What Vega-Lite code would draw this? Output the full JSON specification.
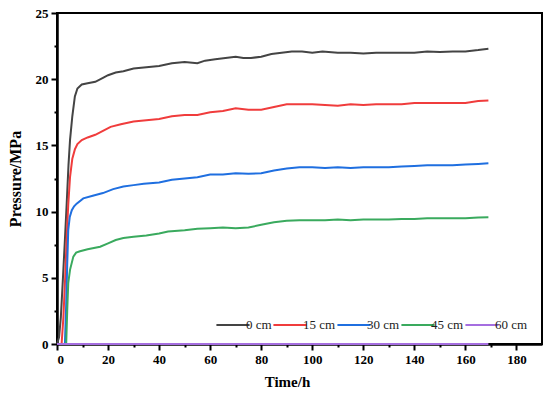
{
  "$schema": "https://vega.github.io/schema/vega-lite/v6.json",
  "width": 485,
  "height": 331,
  "autosize": "none",
  "padding": {"left": 57, "top": 13, "right": 8, "bottom": 57},
  "background": "white",
  "data": {
    "values": [
      {"t": 0, "p": 0, "s": "0 cm"}, {"t": 0.8, "p": 0.5, "s": "0 cm"}, {"t": 1.5, "p": 2, "s": "0 cm"}, {"t": 2.2, "p": 4.5, "s": "0 cm"},
      {"t": 3, "p": 7.5, "s": "0 cm"}, {"t": 3.8, "p": 10.6, "s": "0 cm"}, {"t": 4.5, "p": 13.5, "s": "0 cm"}, {"t": 5.1, "p": 15.4, "s": "0 cm"},
      {"t": 6, "p": 17.2, "s": "0 cm"}, {"t": 7, "p": 18.7, "s": "0 cm"}, {"t": 8, "p": 19.3, "s": "0 cm"}, {"t": 9.7, "p": 19.6, "s": "0 cm"},
      {"t": 12, "p": 19.7, "s": "0 cm"}, {"t": 15, "p": 19.8, "s": "0 cm"}, {"t": 18, "p": 20.1, "s": "0 cm"}, {"t": 20, "p": 20.3, "s": "0 cm"},
      {"t": 23, "p": 20.5, "s": "0 cm"}, {"t": 26, "p": 20.6, "s": "0 cm"}, {"t": 30, "p": 20.8, "s": "0 cm"}, {"t": 35, "p": 20.9, "s": "0 cm"},
      {"t": 40, "p": 21.0, "s": "0 cm"}, {"t": 45, "p": 21.2, "s": "0 cm"}, {"t": 50, "p": 21.3, "s": "0 cm"}, {"t": 55, "p": 21.2, "s": "0 cm"},
      {"t": 58, "p": 21.4, "s": "0 cm"}, {"t": 62, "p": 21.5, "s": "0 cm"}, {"t": 66, "p": 21.6, "s": "0 cm"}, {"t": 70, "p": 21.7, "s": "0 cm"},
      {"t": 73, "p": 21.6, "s": "0 cm"}, {"t": 76, "p": 21.6, "s": "0 cm"}, {"t": 80, "p": 21.7, "s": "0 cm"}, {"t": 84, "p": 21.9, "s": "0 cm"},
      {"t": 88, "p": 22.0, "s": "0 cm"}, {"t": 92, "p": 22.1, "s": "0 cm"}, {"t": 96, "p": 22.1, "s": "0 cm"}, {"t": 100, "p": 22.0, "s": "0 cm"},
      {"t": 104, "p": 22.1, "s": "0 cm"}, {"t": 110, "p": 22.0, "s": "0 cm"}, {"t": 115, "p": 22.0, "s": "0 cm"}, {"t": 120, "p": 21.95, "s": "0 cm"},
      {"t": 125, "p": 22.0, "s": "0 cm"}, {"t": 130, "p": 22.0, "s": "0 cm"}, {"t": 135, "p": 22.0, "s": "0 cm"}, {"t": 140, "p": 22.0, "s": "0 cm"},
      {"t": 145, "p": 22.1, "s": "0 cm"}, {"t": 150, "p": 22.05, "s": "0 cm"}, {"t": 155, "p": 22.1, "s": "0 cm"}, {"t": 160, "p": 22.1, "s": "0 cm"},
      {"t": 165, "p": 22.2, "s": "0 cm"}, {"t": 169, "p": 22.3, "s": "0 cm"},

      {"t": 0, "p": 0, "s": "15 cm"}, {"t": 1.8, "p": 0, "s": "15 cm"}, {"t": 2.5, "p": 2, "s": "15 cm"}, {"t": 3.2, "p": 5, "s": "15 cm"},
      {"t": 3.8, "p": 8.1, "s": "15 cm"}, {"t": 4.4, "p": 10.5, "s": "15 cm"}, {"t": 5.1, "p": 12.6, "s": "15 cm"}, {"t": 6, "p": 14.0, "s": "15 cm"},
      {"t": 7, "p": 14.7, "s": "15 cm"}, {"t": 8, "p": 15.1, "s": "15 cm"}, {"t": 9.7, "p": 15.4, "s": "15 cm"}, {"t": 12, "p": 15.6, "s": "15 cm"},
      {"t": 15, "p": 15.8, "s": "15 cm"}, {"t": 18, "p": 16.1, "s": "15 cm"}, {"t": 21, "p": 16.4, "s": "15 cm"}, {"t": 25, "p": 16.6, "s": "15 cm"},
      {"t": 30, "p": 16.8, "s": "15 cm"}, {"t": 35, "p": 16.9, "s": "15 cm"}, {"t": 40, "p": 17.0, "s": "15 cm"}, {"t": 45, "p": 17.2, "s": "15 cm"},
      {"t": 50, "p": 17.3, "s": "15 cm"}, {"t": 55, "p": 17.3, "s": "15 cm"}, {"t": 60, "p": 17.5, "s": "15 cm"}, {"t": 65, "p": 17.6, "s": "15 cm"},
      {"t": 70, "p": 17.8, "s": "15 cm"}, {"t": 75, "p": 17.7, "s": "15 cm"}, {"t": 80, "p": 17.7, "s": "15 cm"}, {"t": 85, "p": 17.9, "s": "15 cm"},
      {"t": 90, "p": 18.1, "s": "15 cm"}, {"t": 95, "p": 18.1, "s": "15 cm"}, {"t": 100, "p": 18.1, "s": "15 cm"}, {"t": 105, "p": 18.05, "s": "15 cm"},
      {"t": 110, "p": 18.0, "s": "15 cm"}, {"t": 115, "p": 18.1, "s": "15 cm"}, {"t": 120, "p": 18.05, "s": "15 cm"}, {"t": 125, "p": 18.1, "s": "15 cm"},
      {"t": 130, "p": 18.1, "s": "15 cm"}, {"t": 135, "p": 18.1, "s": "15 cm"}, {"t": 140, "p": 18.2, "s": "15 cm"}, {"t": 145, "p": 18.2, "s": "15 cm"},
      {"t": 150, "p": 18.2, "s": "15 cm"}, {"t": 155, "p": 18.2, "s": "15 cm"}, {"t": 160, "p": 18.2, "s": "15 cm"}, {"t": 165, "p": 18.35, "s": "15 cm"},
      {"t": 169, "p": 18.4, "s": "15 cm"},

      {"t": 0, "p": 0, "s": "30 cm"}, {"t": 3.1, "p": 0, "s": "30 cm"}, {"t": 3.6, "p": 3, "s": "30 cm"}, {"t": 4.0, "p": 6, "s": "30 cm"},
      {"t": 4.4, "p": 8.6, "s": "30 cm"}, {"t": 5, "p": 9.6, "s": "30 cm"}, {"t": 5.8, "p": 10.1, "s": "30 cm"}, {"t": 6.7, "p": 10.4, "s": "30 cm"},
      {"t": 7.7, "p": 10.6, "s": "30 cm"}, {"t": 10.3, "p": 11.0, "s": "30 cm"}, {"t": 14, "p": 11.2, "s": "30 cm"}, {"t": 18, "p": 11.4, "s": "30 cm"},
      {"t": 22, "p": 11.7, "s": "30 cm"}, {"t": 26, "p": 11.9, "s": "30 cm"}, {"t": 30, "p": 12.0, "s": "30 cm"}, {"t": 34, "p": 12.1, "s": "30 cm"},
      {"t": 40, "p": 12.2, "s": "30 cm"}, {"t": 45, "p": 12.4, "s": "30 cm"}, {"t": 50, "p": 12.5, "s": "30 cm"}, {"t": 55, "p": 12.6, "s": "30 cm"},
      {"t": 60, "p": 12.8, "s": "30 cm"}, {"t": 65, "p": 12.8, "s": "30 cm"}, {"t": 70, "p": 12.9, "s": "30 cm"}, {"t": 75, "p": 12.85, "s": "30 cm"},
      {"t": 80, "p": 12.9, "s": "30 cm"}, {"t": 85, "p": 13.1, "s": "30 cm"}, {"t": 90, "p": 13.25, "s": "30 cm"}, {"t": 95, "p": 13.35, "s": "30 cm"},
      {"t": 100, "p": 13.35, "s": "30 cm"}, {"t": 105, "p": 13.3, "s": "30 cm"}, {"t": 110, "p": 13.35, "s": "30 cm"}, {"t": 115, "p": 13.3, "s": "30 cm"},
      {"t": 120, "p": 13.35, "s": "30 cm"}, {"t": 125, "p": 13.35, "s": "30 cm"}, {"t": 130, "p": 13.35, "s": "30 cm"}, {"t": 135, "p": 13.4, "s": "30 cm"},
      {"t": 140, "p": 13.45, "s": "30 cm"}, {"t": 145, "p": 13.5, "s": "30 cm"}, {"t": 150, "p": 13.5, "s": "30 cm"}, {"t": 155, "p": 13.5, "s": "30 cm"},
      {"t": 160, "p": 13.55, "s": "30 cm"}, {"t": 165, "p": 13.6, "s": "30 cm"}, {"t": 169, "p": 13.65, "s": "30 cm"},

      {"t": 0, "p": 0, "s": "45 cm"}, {"t": 3.6, "p": 0, "s": "45 cm"}, {"t": 4.0, "p": 2.5, "s": "45 cm"}, {"t": 4.4, "p": 4.6, "s": "45 cm"},
      {"t": 5.1, "p": 5.6, "s": "45 cm"}, {"t": 6.4, "p": 6.6, "s": "45 cm"}, {"t": 7.5, "p": 6.9, "s": "45 cm"}, {"t": 9, "p": 7.0, "s": "45 cm"},
      {"t": 12, "p": 7.15, "s": "45 cm"}, {"t": 16.9, "p": 7.35, "s": "45 cm"}, {"t": 20, "p": 7.6, "s": "45 cm"}, {"t": 23, "p": 7.85, "s": "45 cm"},
      {"t": 26, "p": 8.0, "s": "45 cm"}, {"t": 30, "p": 8.1, "s": "45 cm"}, {"t": 35, "p": 8.2, "s": "45 cm"}, {"t": 40, "p": 8.35, "s": "45 cm"},
      {"t": 43.5, "p": 8.5, "s": "45 cm"}, {"t": 50, "p": 8.6, "s": "45 cm"}, {"t": 55, "p": 8.7, "s": "45 cm"}, {"t": 60, "p": 8.75, "s": "45 cm"},
      {"t": 65, "p": 8.8, "s": "45 cm"}, {"t": 70, "p": 8.75, "s": "45 cm"}, {"t": 75, "p": 8.8, "s": "45 cm"}, {"t": 80, "p": 9.0, "s": "45 cm"},
      {"t": 85, "p": 9.2, "s": "45 cm"}, {"t": 90, "p": 9.3, "s": "45 cm"}, {"t": 95, "p": 9.35, "s": "45 cm"}, {"t": 100, "p": 9.35, "s": "45 cm"},
      {"t": 105, "p": 9.35, "s": "45 cm"}, {"t": 110, "p": 9.4, "s": "45 cm"}, {"t": 115, "p": 9.35, "s": "45 cm"}, {"t": 120, "p": 9.4, "s": "45 cm"},
      {"t": 125, "p": 9.4, "s": "45 cm"}, {"t": 130, "p": 9.4, "s": "45 cm"}, {"t": 135, "p": 9.45, "s": "45 cm"}, {"t": 140, "p": 9.45, "s": "45 cm"},
      {"t": 145, "p": 9.5, "s": "45 cm"}, {"t": 150, "p": 9.5, "s": "45 cm"}, {"t": 155, "p": 9.5, "s": "45 cm"}, {"t": 160, "p": 9.5, "s": "45 cm"},
      {"t": 165, "p": 9.55, "s": "45 cm"}, {"t": 169, "p": 9.57, "s": "45 cm"},

      {"t": 0, "p": 0, "s": "60 cm"}, {"t": 50, "p": 0, "s": "60 cm"}, {"t": 100, "p": 0, "s": "60 cm"}, {"t": 169, "p": 0, "s": "60 cm"}
    ]
  },
  "mark": {"type": "line", "strokeWidth": 2},
  "encoding": {
    "x": {
      "field": "t",
      "type": "quantitative",
      "title": "Time/h",
      "scale": {"domain": [0, 190], "nice": false, "zero": true},
      "axis": {
        "values": [0, 10, 20, 30, 40, 50, 60, 70, 80, 90, 100, 110, 120, 130, 140, 150, 160, 170, 180],
        "labelExpr": "datum.value % 20 === 0 ? datum.label : ''",
        "tickSize": {"condition": {"test": "datum.value % 20 === 0", "value": 6}, "value": 3},
        "grid": false,
        "titleX": 230,
        "titlePadding": 8
      }
    },
    "y": {
      "field": "p",
      "type": "quantitative",
      "title": "Pressure/MPa",
      "scale": {"domain": [0, 25], "nice": false},
      "axis": {
        "values": [0, 2.5, 5, 7.5, 10, 12.5, 15, 17.5, 20, 22.5, 25],
        "labelExpr": "datum.value % 5 === 0 ? datum.label : ''",
        "tickSize": {"condition": {"test": "datum.value % 5 === 0", "value": 6}, "value": 3},
        "grid": false,
        "titlePadding": 12,
        "titleFontSize": 16
      }
    },
    "color": {
      "field": "s",
      "type": "nominal",
      "sort": ["0 cm", "15 cm", "30 cm", "45 cm", "60 cm"],
      "scale": {
        "domain": ["0 cm", "15 cm", "30 cm", "45 cm", "60 cm"],
        "range": ["#444444", "#f03c3c", "#1f6fe0", "#3aaa5e", "#a56ee0"]
      },
      "legend": {
        "title": null,
        "orient": "none",
        "direction": "horizontal",
        "legendX": 158,
        "legendY": 294,
        "symbolType": "stroke",
        "symbolSize": 1100,
        "symbolStrokeWidth": 2,
        "labelOffset": -5,
        "columnPadding": -7,
        "labelFont": "Liberation Serif",
        "labelFontSize": 13,
        "labelColor": "#222222"
      }
    }
  },
  "config": {
    "view": {"stroke": "black", "strokeWidth": 2},
    "axis": {
      "domainColor": "black",
      "domainWidth": 2.5,
      "tickColor": "black",
      "tickWidth": 2,
      "labelFont": "Liberation Serif",
      "labelFontWeight": "bold",
      "labelFontSize": 13,
      "labelColor": "black",
      "labelPadding": 3,
      "titleFont": "Liberation Serif",
      "titleFontWeight": "bold",
      "titleFontSize": 15,
      "titleColor": "black"
    }
  }
}
